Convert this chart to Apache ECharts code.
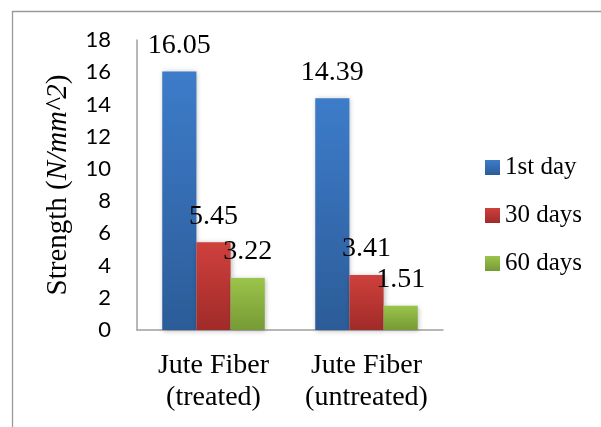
<!DOCTYPE html>
<html>
<head>
<meta charset="utf-8">
<script src="https://cdn.jsdelivr.net/npm/echarts@6/dist/echarts.min.js"></script>
<style>
  html, body { margin: 0; padding: 0; background: #ffffff; }
  #chart { width: 601px; height: 427px; }
</style>
</head>
<body>
<div id="chart"></div>
<script>
// Strength of jute fiber specimens after curing periods
const categories = ['Jute Fiber\n(treated)', 'Jute Fiber\n(untreated)'];
const seriesNames = ['1st day', '30 days', '60 days'];
const day1 = [16.05, 14.39];
const day30 = [5.45, 3.41];
const day60 = [3.22, 1.51];
const yTicks = [0, 2, 4, 6, 8, 10, 12, 14, 16, 18];

const serif = '"Liberation Serif", "Times New Roman", serif';

function grad(top, bottom) {
  return new echarts.graphic.LinearGradient(0, 0, 0, 1, [
    { offset: 0, color: top },
    { offset: 1, color: bottom }
  ]);
}

const fills = [
  grad('#3D7CCA', '#2C5C98'),
  grad('#CF403C', '#A02B29'),
  grad('#9BC44A', '#769A35')
];

const values = [day1, day30, day60];

const chart = echarts.init(document.getElementById('chart'), null, { renderer: 'canvas' });

chart.setOption({
  animation: false,
  backgroundColor: '#ffffff',
  graphic: [{
    type: 'rect',
    left: 10, top: 9,
    shape: { width: 620, height: 440 },
    style: { fill: 'none', stroke: '#9A9A9A', lineWidth: 1.3 },
    silent: true
  }],
  grid: { left: 137, right: 158, top: 40, bottom: 97, containLabel: false },
  legend: {
    orient: 'vertical',
    left: 480,
    top: 150,
    itemWidth: 15,
    itemHeight: 15,
    itemGap: 23,
    icon: 'rect',
    data: seriesNames,
    textStyle: { fontFamily: serif, fontSize: 25, color: '#000000' }
  },
  xAxis: {
    type: 'category',
    data: categories,
    axisLine: { lineStyle: { color: '#A0A0A0', width: 1.5 } },
    axisTick: { show: false },
    axisLabel: {
      fontFamily: serif, fontSize: 28, color: '#000000',
      lineHeight: 32, margin: 20, interval: 0
    }
  },
  yAxis: {
    type: 'value',
    min: 0, max: 18, interval: 2,
    name: '{a|Strength (}{b|N/mm^2}{a|)}',
    nameLocation: 'middle',
    nameRotate: 90,
    nameGap: 64,
    nameTextStyle: {
      rich: {
        a: { fontFamily: serif, fontSize: 29, color: '#000000' },
        b: { fontFamily: serif, fontSize: 29, fontStyle: 'italic', color: '#000000' }
      }
    },
    axisLine: { show: true, lineStyle: { color: '#A0A0A0', width: 1.5 } },
    axisTick: { show: false },
    splitLine: { show: false },
    axisLabel: {
      fontFamily: 'Lato, "Open Sans", sans-serif', fontSize: 22, color: '#000000',
      margin: 26,
      formatter: v => (yTicks.indexOf(v) >= 0 ? String(v) : '')
    }
  },
  series: seriesNames.map((name, i) => ({
    name: name,
    type: 'bar',
    data: values[i],
    barGap: '0%',
    barCategoryGap: '33%',
    itemStyle: {
      color: fills[i],
      shadowBlur: 5,
      shadowColor: 'rgba(0,0,0,0.28)',
      shadowOffsetX: 1,
      shadowOffsetY: 1
    },
    label: {
      show: true,
      position: 'top',
      distance: 12,
      fontFamily: serif,
      fontSize: 28,
      color: '#000000',
      formatter: p => p.value.toFixed(2)
    }
  }))
});
</script>
</body>
</html>
